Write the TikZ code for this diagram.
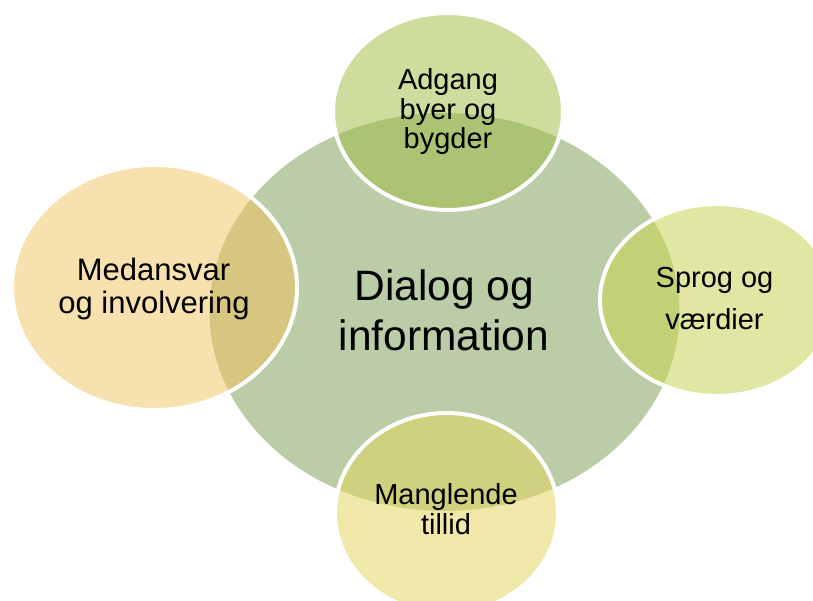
\documentclass[tikz,border=0pt]{standalone}
\usepackage{fontspec}
\setmainfont{Liberation Sans}
\definecolor{cMain}{RGB}{187,205,166}
\definecolor{cTop}{RGB}{206,221,158}
\definecolor{cTopO}{RGB}{170,196,116}
\definecolor{cRight}{RGB}{225,230,162}
\definecolor{cRightO}{RGB}{194,208,118}
\definecolor{cBot}{RGB}{240,232,168}
\definecolor{cBotO}{RGB}{207,209,126}
\definecolor{cLeft}{RGB}{247,225,174}
\definecolor{cLeftO}{RGB}{214,198,128}
\newcommand\mainpath{(444.5,312) ellipse [x radius=235, y radius=199]}
\newcommand\myblob[6]{%
  \fill[#5] (#1,#2) ellipse [x radius=#3, y radius=#4];
  \begin{scope}
    \clip \mainpath;
    \fill[#6] (#1,#2) ellipse [x radius=#3, y radius=#4];
  \end{scope}
  \draw[white, line width=4] (#1,#2) ellipse [x radius=#3, y radius=#4];
}
\tikzset{
  bigtxt/.style={anchor=base, inner sep=0, font=\fontsize{42.5}{49}\selectfont},
  smalltxt/.style={anchor=base, inner sep=0, font=\fontsize{29}{30}\selectfont},
  midtxt/.style={anchor=base, inner sep=0, font=\fontsize{31}{32}\selectfont}
}
\begin{document}
\begin{tikzpicture}[x=1pt,y=-1pt]
\useasboundingbox (0,0) rectangle (813,601);
\clip (0,0) rectangle (813,601);
\fill[cMain] \mainpath;
\myblob{448}{111.5}{115}{98.5}{cTop}{cTopO}
\myblob{717}{300}{117}{96}{cRight}{cRightO}
\myblob{446.5}{513}{111.5}{100}{cBot}{cBotO}
\myblob{154.5}{287.5}{142.5}{122.5}{cLeft}{cLeftO}
\node[bigtxt] (m1) at (444.5,301) {Dialog og};
\node[bigtxt] (m2) at (444,350) {information};
\node[smalltxt] (t1) at (448,90) {Adgang};
\node[smalltxt] (t2) at (448,120) {byer og};
\node[smalltxt] (t3) at (448,149) {bygder};
\node[smalltxt] (r1) at (714.5,288) {Sprog og};
\node[smalltxt] (r2) at (714.5,329) {værdier};
\node[smalltxt] (b1) at (446,504) {Manglende};
\node[smalltxt] (b2) at (446,534) {tillid};
\node[midtxt] (l1) at (153.5,281) {Medansvar};
\node[midtxt] (l2) at (154,313) {og involvering};
\end{tikzpicture}
\end{document}
